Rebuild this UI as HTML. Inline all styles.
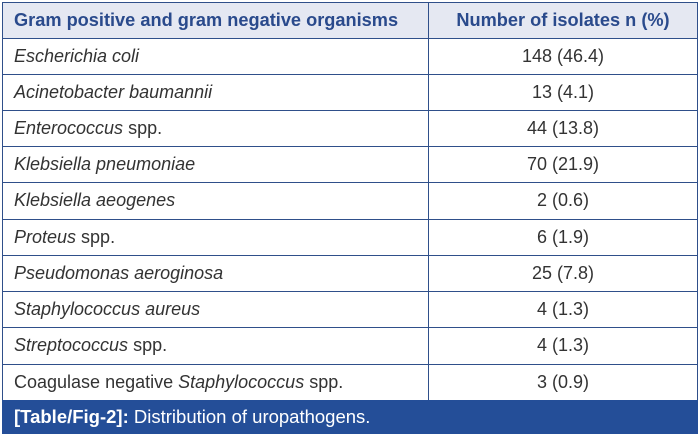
<!DOCTYPE html>
<html><head><meta charset="utf-8"><style>
body{margin:0;width:700px;height:436px;background:#fff;font-family:"Liberation Sans",Arial,sans-serif;position:relative;overflow:hidden}
.r{position:absolute;left:2px;width:695px;height:36px;border-top:1px solid #2f4f8a;box-sizing:border-box;color:#333;font-size:18px;line-height:20px}
.r .a{position:absolute;left:12px;top:7px}
.r .b{position:absolute;left:427px;width:268px;top:7px;text-align:center}
.h{background:#e5e8f2;color:#2a4a8c;font-size:18.2px;font-weight:bold}
.vl{position:absolute;top:2px;height:398px;width:1px;background:#2f4f8a}
.cap{position:absolute;left:2px;top:400px;width:696px;height:34px;background:#244e98;color:#fff;font-size:18.5px;line-height:20px}
.cap span{position:absolute;left:12px;top:7px}
</style></head><body>
<div class="r h" style="top:2px"><span class="a">Gram positive and gram negative organisms</span><span class="b">Number of isolates n (%)</span></div>
<div class="r" style="top:38px"><span class="a"><i>Escherichia coli</i></span><span class="b">148 (46.4)</span></div>
<div class="r" style="top:74px"><span class="a"><i>Acinetobacter baumannii</i></span><span class="b">13 (4.1)</span></div>
<div class="r" style="top:110px"><span class="a"><i>Enterococcus</i> spp.</span><span class="b">44 (13.8)</span></div>
<div class="r" style="top:146px"><span class="a"><i>Klebsiella pneumoniae</i></span><span class="b">70 (21.9)</span></div>
<div class="r" style="top:182px"><span class="a"><i>Klebsiella aeogenes</i></span><span class="b">2 (0.6)</span></div>
<div class="r" style="top:219px"><span class="a"><i>Proteus</i> spp.</span><span class="b">6 (1.9)</span></div>
<div class="r" style="top:255px"><span class="a"><i>Pseudomonas aeroginosa</i></span><span class="b">25 (7.8)</span></div>
<div class="r" style="top:291px"><span class="a"><i>Staphylococcus aureus</i></span><span class="b">4 (1.3)</span></div>
<div class="r" style="top:327px"><span class="a"><i>Streptococcus</i> spp.</span><span class="b">4 (1.3)</span></div>
<div class="r" style="top:364px"><span class="a">Coagulase negative <i>Staphylococcus</i> spp.</span><span class="b">3 (0.9)</span></div>
<div class="vl" style="left:2px"></div>
<div class="vl" style="left:428px"></div>
<div class="vl" style="left:697px"></div>
<div class="cap"><span><b>[Table/Fig-2]:</b> Distribution of uropathogens.</span></div>
</body></html>
